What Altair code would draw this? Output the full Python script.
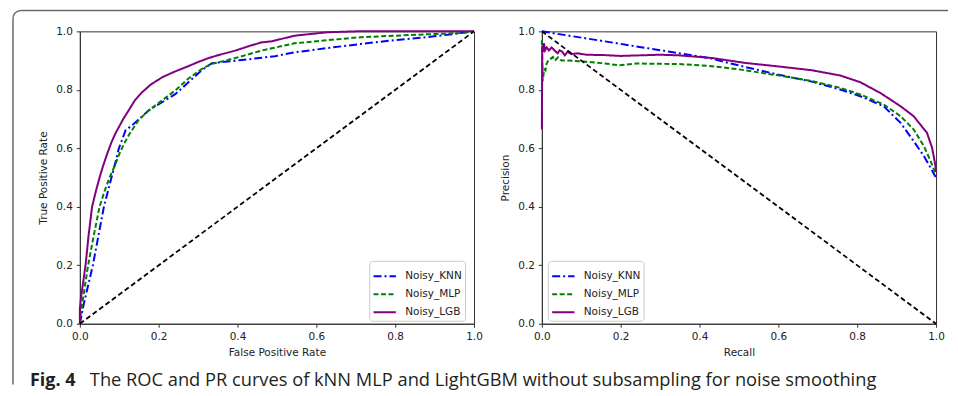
import altair as alt
import pandas as pd

MODELS = ["Noisy_KNN", "Noisy_MLP", "Noisy_LGB"]
COLORS = ["#0000ff", "#008000", "#800080"]
DASHES = [[8, 3, 2, 3], [5, 2.5], [1, 0]]
TICKS = [0.0, 0.2, 0.4, 0.6, 0.8, 1.0]

# ROC curves (false positive rate, true positive rate)
knn_fpr = [0, 0.01, 0.033, 0.061, 0.089, 0.099, 0.116, 0.137, 0.175, 0.242, 0.31, 0.335, 0.411, 0.495, 0.544, 0.629, 0.713, 0.797, 0.882, 0.966, 1.0]
knn_tpr = [0, 0.068, 0.2, 0.4, 0.545, 0.6, 0.661, 0.684, 0.73, 0.785, 0.868, 0.891, 0.902, 0.915, 0.928, 0.943, 0.957, 0.97, 0.98, 0.994, 1.0]

mlp_fpr = [0, 0.002, 0.006, 0.021, 0.035, 0.05, 0.063, 0.077, 0.09, 0.1, 0.112, 0.124, 0.137, 0.149, 0.175, 0.21, 0.242, 0.275, 0.31, 0.335, 0.37, 0.411, 0.46, 0.487, 0.544, 0.629, 0.713, 0.797, 0.882, 0.966, 1.0]
mlp_tpr = [0, 0.03, 0.068, 0.2, 0.3, 0.4, 0.455, 0.505, 0.545, 0.58, 0.615, 0.645, 0.672, 0.696, 0.73, 0.765, 0.798, 0.838, 0.872, 0.889, 0.9, 0.915, 0.934, 0.942, 0.959, 0.97, 0.98, 0.985, 0.99, 0.994, 1.0]

lgb_fpr = [0, 0.0, 0.003, 0.0145, 0.022, 0.031, 0.041, 0.05, 0.059, 0.069, 0.08, 0.09, 0.1, 0.11, 0.124, 0.14, 0.158, 0.18, 0.209, 0.24, 0.268, 0.3, 0.327, 0.36, 0.394, 0.43, 0.46, 0.487, 0.544, 0.6, 0.629, 0.7, 0.8, 0.9, 1.0]
lgb_tpr = [0, 0.05, 0.09, 0.2, 0.3, 0.4, 0.455, 0.5, 0.54, 0.58, 0.62, 0.65, 0.675, 0.7, 0.73, 0.765, 0.792, 0.818, 0.843, 0.862, 0.877, 0.895, 0.909, 0.922, 0.934, 0.95, 0.962, 0.966, 0.985, 0.993, 0.997, 1.0, 1.0, 1.0, 1.0]

# PR curves (recall, precision)
knn_rec = [0, 0.42, 0.516, 0.6, 0.685, 0.757, 0.808, 0.867, 0.91, 0.943, 0.969, 1.0]
knn_prec = [1.0, 0.91, 0.878, 0.852, 0.828, 0.801, 0.778, 0.744, 0.687, 0.625, 0.574, 0.5]

mlp_rec = [0, 0.001, 0.002, 0.004, 0.006, 0.009, 0.012, 0.016, 0.022, 0.028, 0.033, 0.041, 0.05, 0.07, 0.093, 0.113, 0.156, 0.195, 0.24, 0.3, 0.35, 0.431, 0.5, 0.558, 0.62, 0.685, 0.757, 0.808, 0.867, 0.91, 0.943, 0.969, 0.986, 1.0]
mlp_prec = [0.97, 0.9, 0.83, 0.85, 0.87, 0.866, 0.889, 0.9, 0.906, 0.912, 0.9, 0.911, 0.9, 0.9, 0.898, 0.896, 0.891, 0.884, 0.89, 0.889, 0.888, 0.881, 0.87, 0.858, 0.845, 0.83, 0.807, 0.784, 0.75, 0.71, 0.665, 0.608, 0.557, 0.51]

lgb_rec = [0, 0.001, 0.003, 0.005, 0.008, 0.012, 0.018, 0.025, 0.032, 0.04, 0.045, 0.052, 0.058, 0.065, 0.075, 0.09, 0.113, 0.156, 0.2, 0.25, 0.3, 0.347, 0.431, 0.516, 0.6, 0.685, 0.757, 0.808, 0.859, 0.91, 0.943, 0.977, 0.99, 0.998, 1.0]
lgb_prec = [0.665, 0.95, 0.93, 0.96, 0.935, 0.945, 0.935, 0.945, 0.935, 0.925, 0.935, 0.93, 0.918, 0.93, 0.922, 0.925, 0.92, 0.919, 0.916, 0.918, 0.92, 0.918, 0.909, 0.892, 0.88, 0.867, 0.849, 0.826, 0.789, 0.744, 0.71, 0.653, 0.602, 0.545, 0.52]

diag_a = [0.0, 1.0]
diag_up = [0.0, 1.0]
diag_down = [1.0, 0.0]

CAPTION_BOLD = "Fig. 4"
CAPTION_TEXT = "The ROC and PR curves of kNN MLP and LightGBM without subsampling for noise smoothing"


def series_df(names, xs, ys):
    rows = []
    for name, xv, yv in zip(names, xs, ys):
        for i, (a, b) in enumerate(zip(xv, yv)):
            rows.append({"model": name, "x": a, "y": b, "i": i})
    return pd.DataFrame(rows)


roc_df = series_df(MODELS, [knn_fpr, mlp_fpr, lgb_fpr], [knn_tpr, mlp_tpr, lgb_tpr])
pr_df = series_df(MODELS, [knn_rec, mlp_rec, lgb_rec], [knn_prec, mlp_prec, lgb_prec])
roc_diag = pd.DataFrame({"x": diag_a, "y": diag_up, "i": [0, 1]})
pr_diag = pd.DataFrame({"x": diag_a, "y": diag_down, "i": [0, 1]})

W, H = 395, 293
AXIS_COLOR = "#333333"
TEXT_COLOR = "#222222"


def make_panel(df, diag, xtitle, ytitle, legend_x):
    xs = alt.X("x:Q", scale=alt.Scale(domain=[0, 1], nice=False, zero=False),
               axis=alt.Axis(values=TICKS, format=".1f", title=xtitle, grid=False,
                             labelFlush=False, labelOverlap=False,
                             titleX=W / 2, titleY=28.5, titleBaseline="middle",
                             titleAlign="center"))
    ys = alt.Y("y:Q", scale=alt.Scale(domain=[0, 1], nice=False, zero=False),
               axis=alt.Axis(values=TICKS, format=".1f", title=ytitle, grid=False,
                             labelFlush=False, labelOverlap=False,
                             titleX=-36, titleY=H / 2, titleBaseline="middle",
                             titleAlign="center", titleAngle=270))
    legend = alt.Legend(title=None, orient="none", legendX=legend_x, legendY=230,
                        symbolType="stroke", symbolSize=500, symbolStrokeWidth=2,
                        labelFont="DejaVu Sans", labelFontSize=10.5, labelColor=TEXT_COLOR,
                        labelOffset=8, padding=3, rowPadding=-3,
                        strokeColor="#cccccc", fillColor="white", cornerRadius=3)
    lines = alt.Chart(df).mark_line(strokeWidth=2).encode(
        x=xs, y=ys,
        color=alt.Color("model:N", scale=alt.Scale(domain=MODELS, range=COLORS), legend=legend),
        strokeDash=alt.StrokeDash("model:N", scale=alt.Scale(domain=MODELS, range=DASHES), legend=legend),
        order="i:Q",
    )
    dline = alt.Chart(diag).mark_line(color="black", strokeWidth=1.8, strokeDash=[5, 3]).encode(
        x="x:Q", y="y:Q", order="i:Q")
    return lines, dline


one = pd.DataFrame({"k": [0]})
FRAME = "#6a6a6a"
frame_top = alt.Chart(one).mark_rule(color=FRAME, strokeWidth=1.5).encode(
    x=alt.value(-59), x2=alt.value(870), y=alt.value(-21))
frame_left = alt.Chart(one).mark_rule(color=FRAME, strokeWidth=1.5).encode(
    x=alt.value(-67), y=alt.value(-13), y2=alt.value(354))
frame_corner = alt.Chart(one).mark_arc(radius=8.75, radius2=7.25, theta=4.7124, theta2=6.2832,
                                       color=FRAME).encode(x=alt.value(-59), y=alt.value(-13))

cap_bold = alt.Chart(pd.DataFrame({"t": [CAPTION_BOLD]})).mark_text(
    align="left", baseline="alphabetic", font="Open Sans", fontSize=18, fontWeight="bold",
    color="#231f20").encode(x=alt.value(-50), y=alt.value(355), text="t:N")
cap_text = alt.Chart(pd.DataFrame({"t": [CAPTION_TEXT]})).mark_text(
    align="left", baseline="alphabetic", font="Open Sans", fontSize=18.3,
    color="#231f20").encode(x=alt.value(10), y=alt.value(355), text="t:N")

roc_lines, roc_d = make_panel(roc_df, roc_diag, "False Positive Rate", "True Positive Rate", 290)
pr_lines, pr_d = make_panel(pr_df, pr_diag, "Recall", "Precision", 6)

left = alt.layer(roc_lines, roc_d, frame_top, frame_left, frame_corner, cap_bold, cap_text).properties(width=W, height=H)
right = alt.layer(pr_lines, pr_d).properties(width=W, height=H)

chart = alt.hconcat(left, right, spacing=68, bounds="flush").resolve_scale(
    x="independent", y="independent", color="independent", strokeDash="independent"
).resolve_legend(color="independent", strokeDash="independent").properties(
    padding={"left": 3, "top": 0, "right": 0, "bottom": 0},
    background="white",
).configure_view(stroke=AXIS_COLOR, strokeWidth=1).configure_axis(
    domainColor=AXIS_COLOR, tickColor=AXIS_COLOR, tickSize=3.5, labelPadding=4,
    labelFont="DejaVu Sans", labelFontSize=10.5, labelColor=TEXT_COLOR,
    titleFont="DejaVu Sans", titleFontSize=10.5, titleFontWeight="normal", titleColor=TEXT_COLOR,
)

chart.save("out.html", embed_options={"renderer": "svg", "actions": False})
